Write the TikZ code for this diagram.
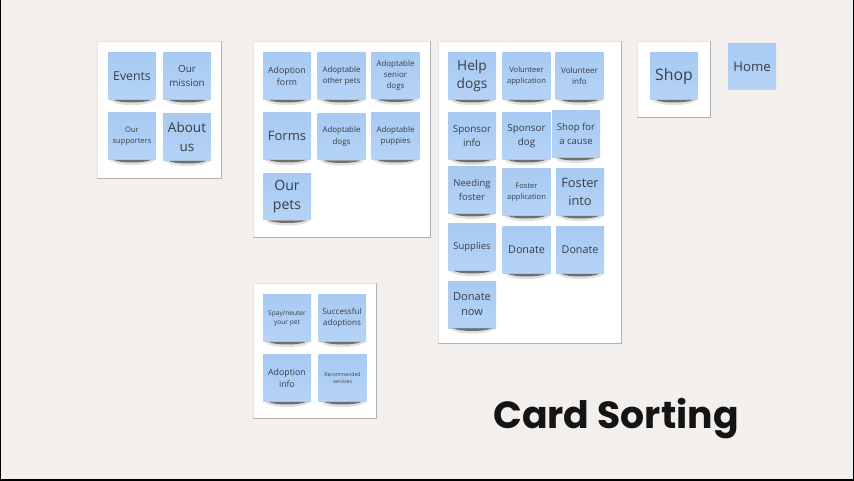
\documentclass[tikz,border=0pt]{standalone}
\usepackage{fontspec}
\setmainfont{Open Sans}
\newfontfamily\titlefont{Poppins}
\usetikzlibrary{calc}

\definecolor{boardbg}{HTML}{F2EFEC}
\definecolor{stickytop}{HTML}{A8CAF2}
\definecolor{stickybot}{HTML}{B4D3F6}
\definecolor{inkgray}{HTML}{3A3E46}

\tikzset{
  card/.style={rectangle, inner sep=0pt, minimum width=0.96cm, minimum height=0.94cm,
    top color=stickytop, bottom color=stickybot, text=inkgray, align=center},
  fs/.style 2 args={font=\fontsize{#1}{#2}\selectfont},
  panel/.style={fill=white, draw=black!10},
  paneledge/.style={draw=black!30, line width=0.5pt}
}

\begin{document}
\begin{tikzpicture}[x=0.02cm, y=-0.02cm]

% Board background and frame
\fill[boardbg] (0,0) rectangle (854,480);
\useasboundingbox (0,0) rectangle (854,480);
\draw[black, line width=1.2pt] (0,0) -- (0,480) -- (854,480) -- (854,0);

% White panels
\foreach \xa/\ya/\xb/\yb in {97/41/221/178, 253/41/430/237, 438/41/621/343,
                              637/41/710/117, 253/283/376/418} {
  \path[panel] (\xa,\ya) rectangle (\xb,\yb);
  \draw[paneledge] (\xb,\ya) -- (\xb,\yb) -- (\xa,\yb);
}

% Group 1
\node[card, fs={7}{9.5}]   (events)     at (132,76)  {Events};
\node[card, fs={5.6}{7.8}] (mission)    at (187,76)  {Our\\mission};
\node[card, fs={4.3}{6}]   (supporters) at (132,136) {Our\\supporters};
\node[card, fs={7.7}{10.4}](about)      at (187,137) {About\\us};

% Group 2
\node[card, fs={5}{7}]     (adoptform)  at (287,76)    {Adoption\\form};
\node[card, fs={4.5}{6.4}] (otherpets)  at (341.5,76)  {Adoptable\\other pets};
\node[card, fs={4.5}{6.5}] (seniordogs) at (395.5,75.5){Adoptable\\senior\\dogs};
\node[card, fs={7.4}{10}]  (forms)      at (287,136)   {Forms};
\node[card, fs={4.5}{6.4}] (adoptdogs)  at (341.5,136.5){Adoptable\\dogs};
\node[card, fs={4.5}{6.4}] (puppies)    at (395.5,136) {Adoptable\\puppies};
\node[card, fs={8}{10.8}]  (ourpets)    at (287,196.5) {Our\\pets};

% Group 3
\node[card, fs={7.8}{10.4}](helpdogs)   at (472,76)    {Help\\dogs};
\node[card, fs={4.3}{6}]   (volapp)     at (526.5,76)  {Volunteer\\application};
\node[card, fs={4.6}{6.4}] (volinfo)    at (579.5,76)  {Volunteer\\info};
\node[card, fs={5.6}{7.8}] (sponsorinfo)at (472,136)   {Sponsor\\info};
\node[card, fs={5.6}{7.8}] (sponsordog) at (526.5,136) {Sponsor\\dog};
\node[card, fs={5.45}{7.6}](shopcause)  at (576,134)   {Shop for\\a cause};
\node[card, fs={5.4}{7.6}] (needfoster) at (472,190)   {Needing\\foster};
\node[card, fs={4.3}{6}]   (fosterapp)  at (526.5,192) {Foster\\application};
\node[card, fs={7.3}{9.8}] (fosterinto) at (580,192)   {Foster\\into};
\node[card, fs={5.4}{7.5}] (supplies)   at (472,247)   {Supplies};
\node[card, fs={6.1}{8.4}] (donate)     at (526.5,250) {Donate};
\node[card, fs={6.1}{8.4}] (donatetwo)  at (580,250)   {Donate};
\node[card, fs={6.3}{8.5}] (donatenow)  at (472,304.5) {Donate\\now};

% Group 4 and loose card
\node[card, fs={9}{12}]    (shop)       at (674,76)    {Shop};
\node[card, fs={7.5}{10}]  (home)       at (752,66.5)  {Home};

% Group 5
\node[card, fs={3.75}{5.2}](spay)       at (287,318)   {Spay/neuter\\your pet};
\node[card, fs={4.6}{6.4}] (successful) at (342,318)   {Successful\\adoptions};
\node[card, fs={5}{7}]     (adoptinfo)  at (287,378)   {Adoption\\info};
\node[card, fs={2.9}{4.2}] (recommended)at (342.5,378) {Recommended\\services};

% Shadows under the cards
\foreach \n in {events, mission, supporters, about, adoptform, otherpets, seniordogs,
                forms, adoptdogs, puppies, ourpets, helpdogs, volapp, volinfo,
                sponsorinfo, sponsordog, shopcause, needfoster, fosterapp, fosterinto,
                supplies, donate, donatetwo, donatenow, shop, spay, successful,
                adoptinfo, recommended} {
  \fill[black, opacity=0.12] ($(\n.south west)+(2,0)$) .. controls ($(\n.south west)+(8,7)$)
    and ($(\n.south east)+(-8,7)$) .. ($(\n.south east)+(-1,0)$) -- cycle;
  \fill[black, opacity=0.5] ($(\n.south west)+(6,0)$) .. controls ($(\n.south west)+(12,3.5)$)
    and ($(\n.south east)+(-12,3.5)$) .. ($(\n.south east)+(-5,0)$) -- cycle;
}

% Title
\node[anchor=base west, font=\titlefont\bfseries\fontsize{21.5}{26}\selectfont,
      text=black!92, inner sep=0pt] (title) at (493,428) {Card Sorting};

\end{tikzpicture}
\end{document}
